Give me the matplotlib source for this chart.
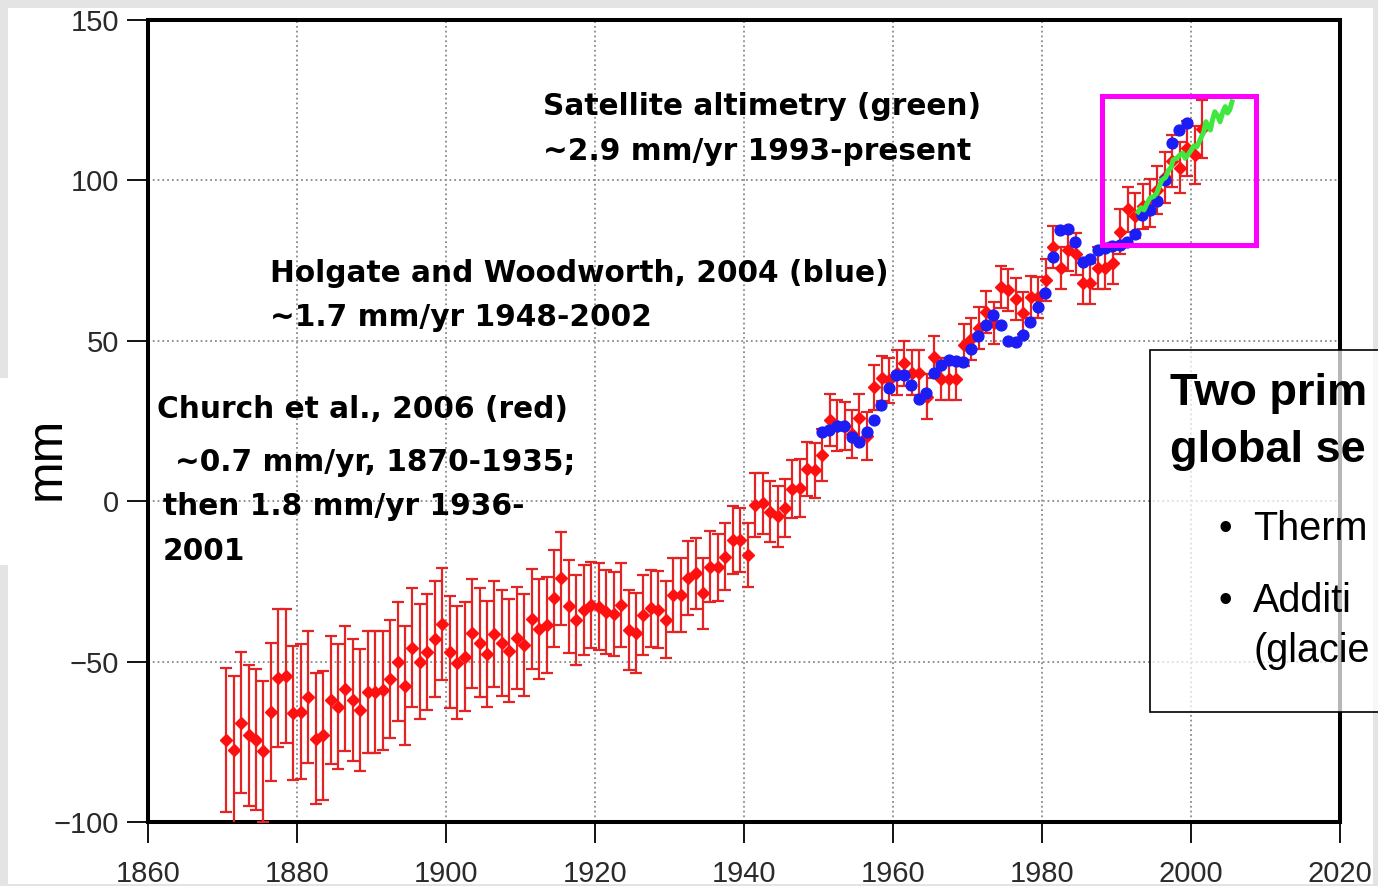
import numpy as np
import matplotlib
matplotlib.use('Agg')
import matplotlib.pyplot as plt
from matplotlib.patches import Rectangle

W, H = 1378, 886

# ---------------- data ----------------
church_years = list(range(1870, 2002))
church_mm = [
    -74.4, -77.5, -69, -73, -74.4, -78, -65.6, -55, -54.5, -66,
    -65.6, -61, -74, -73, -62, -64, -58.5, -62, -65, -59.4,
    -59.4, -59, -55.4, -50, -57.5, -45.7, -50, -47, -43, -38.3,
    -47, -50.3, -48.5, -41.2, -44.1, -47.7, -41.5, -44.1, -46.6, -42.6,
    -44.8, -36.7, -39.9, -38.7, -30.3, -24, -32.7, -37, -33.9, -32.4,
    -32.9, -34.5, -35.2, -32.4, -40.1, -41, -35.5, -33.4, -33.9, -37,
    -29.2, -29.2, -24, -22.5, -28.7, -20.4, -20.6, -17.3, -12.1, -12.1,
    -16.8, -1.2, -0.7, -3.3, -4.7, -2.1, 3.7, 4, 10, 9.6,
    14.4, 25.3, 23.5, 23.5, 21, 25.8, 20.3, 35.5, 38.3, 37.7,
    40, 43, 40, 40, 32.5, 45, 38, 38, 38, 48.7,
    50.5, 53.9, 59, 55.5, 66.7, 65.8, 63, 58.6, 63.7, 63.5,
    69, 79.3, 72.6, 78.3, 77, 67.9, 67.9, 72.6, 72.7, 74.1,
    84, 91, 89, 92, 93, 97, 101, 106, 104, 110,
    108, 116,
]
church_err = [
    22.5, 23, 22, 22, 22, 22, 21.5, 21.5, 21, 21,
    21, 20.5, 20.5, 20, 20, 19.5, 19.5, 19, 19, 19,
    19, 18.5, 18.5, 18.5, 18.5, 18.5, 18, 18, 18, 17.5,
    17.5, 17.5, 17, 17, 17, 16.5, 16.5, 16.5, 16, 16,
    16, 15.5, 15.5, 15, 15, 14.5, 14.5, 14, 14, 13.5,
    13.5, 13, 13, 13, 12.5, 12.5, 12.5, 12, 12, 12,
    11.5, 11.5, 11.5, 11, 11, 11, 10.5, 10.5, 10.5, 10,
    10, 10, 9.5, 9.5, 9.5, 9, 9, 9, 8.5, 8.5,
    8, 8, 8, 7.5, 7.5, 7.5, 7.5, 7, 7, 7,
    7, 7, 7, 7, 7, 6.5, 6.5, 6.5, 6.5, 6.5,
    6.5, 6.5, 6.5, 6.5, 6.5, 6.5, 6.5, 6.5, 6.5, 6.5,
    6.5, 6.5, 6.5, 6.5, 6.5, 6.5, 6.5, 6.5, 6.5, 6.5,
    7, 7, 7, 7, 7.5, 7.5, 8, 8, 8, 8.5,
    9, 9,
]
holgate_years = list(range(1950, 2000))
holgate_mm = [
    21.7, 22.2, 23.3, 23.3, 20.1, 18.6, 21.7, 25.3, 30, 35.2,
    39.3, 39.3, 36.2, 32, 33.6, 39.9, 42.5, 44, 43.7, 43.5,
    47.4, 51.5, 55, 58, 55, 49.8, 49.5, 51.9, 56, 60.5,
    64.8, 76, 84.5, 85, 80.9, 74.7, 75.6, 78.3, 79, 79.6,
    80, 80.9, 83.4, 89.2, 90.7, 93.7, 100, 111.6, 115.7, 118,
]
sat_time = [1992.9, 1993.3, 1993.7, 1994.1, 1994.5, 1995.0, 1995.4, 1995.8,
            1996.1, 1996.6, 1997.0, 1997.3, 1997.6, 1998.0, 1998.5, 1998.9,
            1999.2, 1999.6, 1999.9, 2000.4, 2000.8, 2001.1, 2001.4, 2001.7,
            2002.0, 2002.3, 2002.6, 2002.9, 2003.2, 2003.6, 2003.9, 2004.3,
            2004.6, 2004.9, 2005.2, 2005.5]
sat_mm = [90.2, 91.5, 90.8, 92.8, 94.5, 95, 96, 98.5,
          100.1, 101, 103.2, 104, 106.4, 106.8, 107.9, 108.5,
          106.9, 108, 109, 110.8, 110.5, 112, 113.6, 115,
          118.3, 117, 115.7, 119, 121.4, 120, 118.3, 121.5,
          123, 121, 122, 124.5]
x_ticks = [1860, 1880, 1900, 1920, 1940, 1960, 1980, 2000, 2020]
y_ticks = [-100, -50, 0, 50, 100, 150]
highlight_years = [1988.0, 2008.7]
highlight_mm = [79.9, 126.3]

# ---------------- figure ----------------
fig = plt.figure(figsize=(W / 100, H / 100), dpi=100)
fig.patch.set_facecolor('#e4e4e4')


def fx(px):
    return px / W


def fy(py):
    return 1 - py / H


# white slide panel and "mm" label box
fig.patches.append(Rectangle((fx(8), fy(884)), (1373 - 8) / W, (884 - 8) / H,
                             transform=fig.transFigure, fc='white', ec='none', zorder=-10))
fig.patches.append(Rectangle((fx(0), fy(565)), 42 / W, (565 - 378) / H,
                             transform=fig.transFigure, fc='white', ec='none', zorder=-9))

ax = fig.add_axes([fx(148), fy(822), (1340 - 148) / W, (822 - 20) / H])
ax.set_facecolor('white')

cx = np.array(church_years) + 0.5
ax.errorbar(cx, church_mm, yerr=church_err, fmt='D', ms=6.3, color='#ff1010',
            ecolor='#e42424', elinewidth=1.6, capsize=4.5, capthick=1.6, zorder=3)
hx = np.array(holgate_years) + 0.45
ax.plot(hx, holgate_mm, 'o', ms=7.8, color='#1c1cf5', zorder=4)
ax.plot(sat_time, sat_mm, '-', color='#3ee83e', lw=3.6, zorder=5)
ax.add_patch(Rectangle((highlight_years[0], highlight_mm[0]),
                       highlight_years[1] - highlight_years[0],
                       highlight_mm[1] - highlight_mm[0],
                       fill=False, ec='#ff00ff', lw=3.6, zorder=6))

ax.set_xlim(1860, 2020)
ax.set_ylim(-100, 150)
ax.set_xticks(x_ticks)
ax.set_yticks(y_ticks)
ax.set_yticklabels([str(v).replace('-', '\u2212') for v in y_ticks])
ax.grid(True, ls=':', color='#8a8a8a', lw=1.3, zorder=0)
for s in ax.spines.values():
    s.set_linewidth(2.9)
    s.set_color('black')
ax.tick_params(axis='both', direction='out', length=15, width=1.3, color='black',
               labelsize=21, labelcolor='#2a2a2a')
ax.tick_params(axis='x', pad=12)
ax.tick_params(axis='y', pad=6)
for lab in ax.get_xticklabels() + ax.get_yticklabels():
    lab.set_family('Liberation Sans')

# y label
fig.text(fx(47), fy(458), 'mm', rotation=90, ha='center', va='center',
         fontsize=36, family='Liberation Sans', color='black')

# annotations
ann = dict(family='DejaVu Sans', fontweight='bold', fontsize=21.3, color='black',
           ha='left', va='baseline')
fig.text(fx(543), fy(115), 'Satellite altimetry (green)', **ann)
fig.text(fx(543), fy(160), '~2.9 mm/yr 1993-present', **ann)
fig.text(fx(270), fy(282), 'Holgate and Woodworth, 2004 (blue)', **ann)
fig.text(fx(270), fy(326), '~1.7 mm/yr 1948-2002', **ann)
fig.text(fx(157), fy(418), 'Church et al., 2006 (red)', **ann)
fig.text(fx(175), fy(471), '~0.7 mm/yr, 1870-1935;', **ann)
fig.text(fx(163), fy(515), 'then 1.8 mm/yr 1936-', **ann)
fig.text(fx(163), fy(560), '2001', **ann)

# right text box (cut by the slide edge in the reference: only the visible part)
fig.patches.append(Rectangle((fx(1150), fy(712)), (1420 - 1150) / W, (712 - 350) / H,
                             transform=fig.transFigure, fc=(1, 1, 1, 0.72),
                             ec='black', lw=1.2, zorder=5))
bt = dict(family='Liberation Sans', color='black', ha='left', va='baseline', zorder=6)
fig.text(fx(1170), fy(405), 'Two prim', fontsize=32.5, fontweight='bold', **bt)
fig.text(fx(1170), fy(462), 'global se', fontsize=32.5, fontweight='bold', **bt)
fig.text(fx(1218), fy(540), '\u2022', fontsize=28, **bt)
fig.text(fx(1253), fy(540), 'Therm', fontsize=28.5, **bt)
fig.text(fx(1218), fy(612), '\u2022', fontsize=28, **bt)
fig.text(fx(1253), fy(612), 'Additi', fontsize=28.5, **bt)
fig.text(fx(1253), fy(662), '(glacie', fontsize=28.5, **bt)

fig.savefig('out.png', dpi=100)
